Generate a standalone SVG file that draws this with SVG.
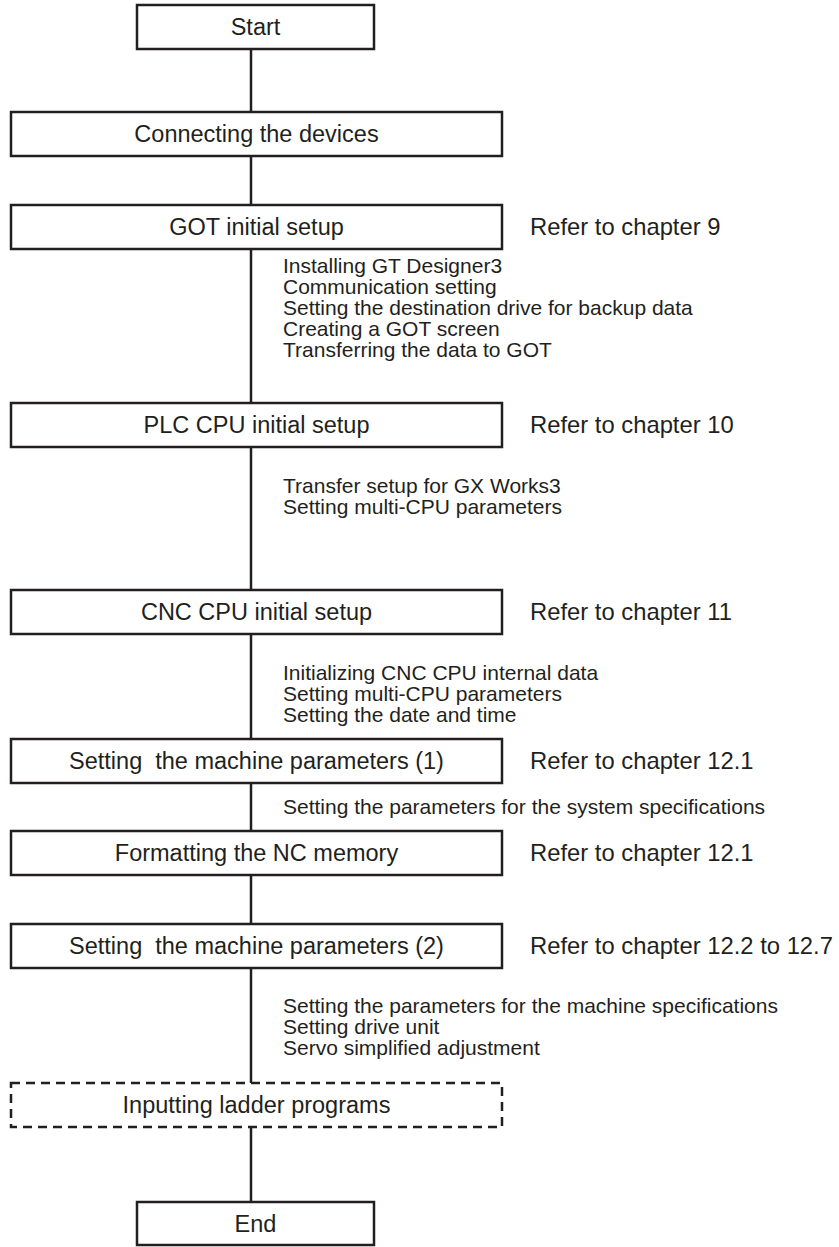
<svg xmlns="http://www.w3.org/2000/svg" width="839" height="1247" viewBox="0 0 839 1247">
<style>
.box{fill:#fff;stroke:#231f20;stroke-width:2.5}
.dash{fill:#fff;stroke:#231f20;stroke-width:2.5;stroke-dasharray:9 6}
.line{stroke:#231f20;stroke-width:2.5;fill:none}
.t{font-family:"Liberation Sans",Arial,sans-serif;font-size:23.5px;fill:#231f20;text-anchor:middle}
.r{font-family:"Liberation Sans",Arial,sans-serif;font-size:23.8px;fill:#231f20}
.s{font-family:"Liberation Sans",Arial,sans-serif;font-size:21px;fill:#231f20}
</style>
<rect width="839" height="1247" fill="#fff"/>
<g id="connectors">
<line class="line" x1="251" y1="49" x2="251" y2="1202"/>
</g>
<g id="start"><rect class="box" x="137" y="5" width="237" height="44"/><text class="t" x="255.5" y="35">Start</text></g>
<g id="connect"><rect class="box" x="11" y="112" width="491" height="44"/><text class="t" x="256.5" y="142">Connecting the devices</text></g>
<g id="got"><rect class="box" x="11" y="205" width="491" height="44"/><text class="t" x="256.5" y="235">GOT initial setup</text>
<text class="r" x="530" y="235">Refer to chapter 9</text>
<text class="s"><tspan x="283" y="273">Installing GT Designer3</tspan><tspan x="283" y="294">Communication setting</tspan><tspan x="283" y="315">Setting the destination drive for backup data</tspan><tspan x="283" y="336">Creating a GOT screen</tspan><tspan x="283" y="357">Transferring the data to GOT</tspan></text></g>
<g id="plc"><rect class="box" x="11" y="403" width="491" height="44"/><text class="t" x="256.5" y="433">PLC CPU initial setup</text>
<text class="r" x="530" y="433">Refer to chapter 10</text>
<text class="s"><tspan x="283" y="493">Transfer setup for GX Works3</tspan><tspan x="283" y="514">Setting multi-CPU parameters</tspan></text></g>
<g id="cnc"><rect class="box" x="11" y="590" width="491" height="44"/><text class="t" x="256.5" y="620">CNC CPU initial setup</text>
<text class="r" x="530" y="620">Refer to chapter 11</text>
<text class="s"><tspan x="283" y="680">Initializing CNC CPU internal data</tspan><tspan x="283" y="701">Setting multi-CPU parameters</tspan><tspan x="283" y="722">Setting the date and time</tspan></text></g>
<g id="mp1"><rect class="box" x="11" y="739" width="491" height="44"/><text class="t" x="256.5" y="769" xml:space="preserve">Setting  the machine parameters (1)</text>
<text class="r" x="530" y="769">Refer to chapter 12.1</text>
<text class="s" x="283" y="814">Setting the parameters for the system specifications</text></g>
<g id="fmt"><rect class="box" x="11" y="831" width="491" height="44"/><text class="t" x="256.5" y="861">Formatting the NC memory</text>
<text class="r" x="530" y="861">Refer to chapter 12.1</text></g>
<g id="mp2"><rect class="box" x="11" y="924" width="491" height="44"/><text class="t" x="256.5" y="954" xml:space="preserve">Setting  the machine parameters (2)</text>
<text class="r" x="530" y="954">Refer to chapter 12.2 to 12.7</text>
<text class="s"><tspan x="283" y="1013">Setting the parameters for the machine specifications</tspan><tspan x="283" y="1034">Setting drive unit</tspan><tspan x="283" y="1055">Servo simplified adjustment</tspan></text></g>
<g id="ladder"><rect class="dash" x="11" y="1083" width="491" height="44"/><text class="t" x="256.5" y="1113">Inputting ladder programs</text></g>
<g id="end"><rect class="box" x="137" y="1202" width="237" height="43"/><text class="t" x="255.5" y="1232">End</text></g>
</svg>
